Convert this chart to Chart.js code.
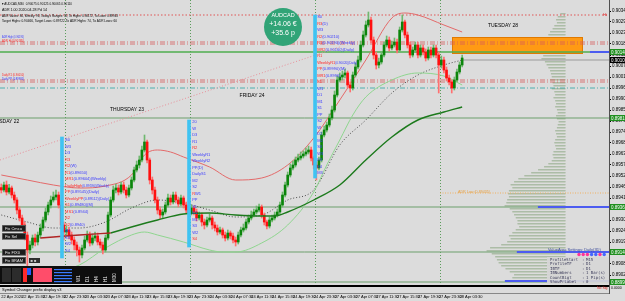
<!DOCTYPE html>
<html>
<head>
<meta charset="utf-8">
<title>AUDCAD M30</title>
<script src="https://cdn.jsdelivr.net/npm/chart.js@4.4.1/dist/chart.umd.min.js"></script>
<style>
  html, body { margin: 0; padding: 0; background: #dcdcdc; }
  #wrap { width: 625px; height: 301px; }
</style>
</head>
<body>
<div id="wrap"><canvas id="priceChart" width="625" height="301"></canvas></div>
<script>
// all prices in points (1 point = 0.00001)
const opens = [89462,89450,89475,89440,89460,89425,89400,89350,89310,89275,
  89225,89150,89175,89210,89190,89225,89260,89300,89340,89375,
  89400,89415,89425,89375,89275,89240,89250,89225,89200,89175,
  89150,89125,89160,89200,89225,89185,89210,89220,89190,89175,
  89150,89210,89325,89400,89450,89460,89440,89475,89450,89425,
  89460,89500,89550,89575,89600,89650,89690,89600,89500,89450,
  89400,89350,89325,89340,89375,89410,89390,89425,89400,89380,
  89410,89375,89350,89335,89360,89340,89310,89325,89290,89275,
  89300,89310,89275,89260,89240,89250,89225,89210,89235,89220,
  89200,89190,89225,89250,89260,89290,89310,89325,89340,89350,
  89365,89325,89290,89270,89300,89310,89325,89340,89375,89425,
  89475,89525,89560,89575,89600,89610,89620,89630,89640,89650,
  89610,89575,89560,89600,89725,89750,89775,89810,89850,89925,
  90000,90015,90025,90035,89975,89960,90025,90065,90100,90175,
  90225,90275,90300,90200,90125,90075,90090,90125,90175,90200,
  90160,90175,90190,90150,90250,90290,90225,90175,90125,90150,
  90175,90125,90160,90140,90110,90150,90125,90160,90125,90075,
  90100,90050,90010,89990,89960,90000,90040,90075];
const highs = [89480,89490,89495,89478,89470,89440,89412,89365,89325,89290,
  89240,89195,89225,89230,89240,89280,89315,89360,89390,89420,
  89440,89450,89440,89390,89290,89270,89265,89240,89215,89190,
  89165,89175,89220,89245,89240,89230,89240,89235,89205,89190,
  89225,89340,89415,89470,89480,89475,89490,89490,89465,89475,
  89515,89565,89595,89620,89670,89725,89700,89610,89515,89465,
  89415,89365,89355,89390,89430,89425,89440,89440,89415,89425,
  89420,89390,89365,89375,89370,89355,89340,89335,89305,89315,
  89330,89320,89290,89275,89265,89260,89240,89250,89245,89235,
  89215,89240,89265,89280,89305,89325,89345,89355,89370,89380,
  89375,89335,89300,89315,89325,89340,89355,89390,89440,89490,
  89540,89580,89595,89615,89630,89640,89645,89660,89670,89665,
  89620,89590,89615,89740,89770,89790,89830,89870,89945,90020,
  90035,90045,90055,90045,89990,90040,90085,90120,90195,90245,
  90295,90340,90315,90215,90140,90110,90140,90190,90220,90215,
  90195,90210,90205,90265,90325,90300,90240,90190,90165,90190,
  90190,90175,90175,90155,90165,90165,90175,90175,90140,90120,
  90115,90065,90025,90000,90015,90055,90090,90125];
const lows = [89435,89440,89425,89430,89410,89385,89330,89295,89255,89200,
  89060,89130,89160,89170,89175,89210,89245,89290,89325,89360,
  89390,89400,89360,89255,89200,89225,89205,89180,89150,89120,
  89090,89110,89150,89190,89170,89175,89195,89175,89160,89130,
  89140,89200,89315,89390,89435,89425,89430,89435,89410,89415,
  89450,89490,89540,89560,89590,89640,89585,89480,89430,89385,
  89330,89305,89310,89330,89365,89375,89380,89385,89365,89370,
  89360,89335,89320,89325,89325,89295,89300,89270,89255,89265,
  89290,89255,89245,89225,89230,89210,89195,89200,89205,89185,
  89170,89180,89215,89240,89250,89280,89300,89315,89330,89340,
  89310,89275,89255,89260,89290,89300,89315,89330,89365,89415,
  89465,89515,89550,89565,89590,89600,89610,89620,89630,89595,
  89555,89500,89550,89590,89715,89740,89765,89800,89840,89915,
  89990,90000,90010,89960,89940,89950,90015,90055,90090,90165,
  90215,90265,90185,90105,90055,90060,90080,90115,90165,90145,
  90150,90165,90135,90140,90240,90210,90160,90110,90115,90140,
  90110,90115,90125,90095,90100,90110,90115,90110,89935,90060,
  90035,89995,89975,89935,89950,89990,90030,90065];
const closes = [89450,89475,89440,89460,89425,89400,89350,89310,89275,89225,
  89150,89175,89210,89190,89225,89260,89300,89340,89375,89400,
  89415,89425,89375,89275,89240,89250,89225,89200,89175,89150,
  89125,89160,89200,89225,89185,89210,89220,89190,89175,89150,
  89210,89325,89400,89450,89460,89440,89475,89450,89425,89460,
  89500,89550,89575,89600,89650,89690,89600,89500,89450,89400,
  89350,89325,89340,89375,89410,89390,89425,89400,89380,89410,
  89375,89350,89335,89360,89340,89310,89325,89290,89275,89300,
  89310,89275,89260,89240,89250,89225,89210,89235,89220,89200,
  89190,89225,89250,89260,89290,89310,89325,89340,89350,89365,
  89325,89290,89270,89300,89310,89325,89340,89375,89425,89475,
  89525,89560,89575,89600,89610,89620,89630,89640,89650,89610,
  89575,89560,89600,89725,89750,89775,89810,89850,89925,90000,
  90015,90025,90035,89975,89960,90025,90065,90100,90175,90225,
  90275,90300,90200,90125,90075,90090,90125,90175,90200,90160,
  90175,90190,90150,90250,90290,90225,90175,90125,90150,90175,
  90125,90160,90140,90110,90150,90125,90160,90125,90075,90100,
  90050,90010,89990,89960,90000,90040,90075,90110];

// envelope / moving averages, sampled at bar indexes
const upperIdx = [0,10,20,30,40,50,55,60,65,70,80,90,100,110,120,130,140,150,155,160,170,177];
const upperVal = [89525,89500,89475,89460,89470,89525,89625,89650,89640,89615,89565,89500,89510,89575,89710,89900,90100,90310,90335,90325,90275,90240];
const lowerIdx = [0,10,20,30,40,50,55,60,70,80,85,90,100,110,120,125,130,135,140,150,160,170,177];
const lowerVal = [89060,89025,89040,89075,89160,89225,89240,89225,89190,89150,89140,89140,89185,89275,89440,89575,89700,89825,89915,90000,90035,90020,89975];
const midIdx = [0,10,20,30,40,50,60,70,80,90,100,110,120,130,140,150,160,170,177];
const midVal = [89325,89290,89260,89260,89290,89360,89400,89385,89350,89315,89325,89400,89450,89675,89800,89935,90025,90075,90100];
const maRedIdx = [15,20,30,42];
const maRedVal = [89210,89215,89225,89235];
const maGreenIdx = [42,50,60,70,80,90,100,105,110,120,130,140,150,160,170,177];
const maGreenVal = [89235,89265,89300,89330,89335,89325,89320,89320,89340,89400,89475,89600,89715,89800,89840,89865];

// session markers (cyan bars)
const sessionIdx = [23.3, 72.1, 120.5];
const sessionLow = [89110, 89165, 89510];
const sessionHigh = [89715, 89800, 90325];

// volume profile: price bins from 0.90330 down, 15 points each
const profileVolume = [6,9,11,10,13,15,
  18,20,22,21,24,23,22,
  25,
  26,28,24,22,20,18,
  17,16,18,15,14,16,13,12,14,12,11,12,
  10,9,11,10,8,9,10,12,11,10,12,13,12,11,14,15,14,16,20,
  25,32,40,48,55,60,
  64,62,66,67,66,68,69,
  71,
  65,62,60,58,56,
  56,54,58,62,
  66,64,68,75,
  88,92,
  86,82,80,78,
  75,70,65,60,62,62];
const profileTop = 90330, profileStep = 15;

const timeTickIdx = [0,8,16,24,32,40,48,56,64,72,80,88,96,104,112,120,128,136,144,152,160,168,176];
const timeLabels = ['22 Apr 2020','22 Apr 15:30','22 Apr 19:30','22 Apr 23:30','23 Apr 03:30','23 Apr 07:30',
  '23 Apr 11:30','23 Apr 15:30','23 Apr 19:30','23 Apr 23:30','24 Apr 03:30','24 Apr 07:30','24 Apr 11:30',
  '24 Apr 15:30','24 Apr 19:30','24 Apr 23:30','27 Apr 03:30','27 Apr 07:30','27 Apr 11:30','27 Apr 15:30',
  '27 Apr 19:30','27 Apr 23:30','28 Apr 03:30'];
const priceTicks = [90345,90290,90235,90180,90125,90070,90015,89960,89905,89850,89795,89740,89685,
  89630,89575,89520,89465,89410,89355,89300,89245,89190,89135,89080,89025];

const daySepIdx = [24.5, 72.5, 120.5, 168.5];
const dayNames = ['WEDNESDAY 22', 'THURSDAY 23', 'FRIDAY 24', 'TUESDAY 28'];
const dayIdx = [-0.5, 48.3, 96.3, 192.7];
const dayPrice = [89790, 89850, 89920, 90270];

const axisMarks = [[90140,'#1f8f1f'],[90100,'#000000'],[89810,'#1f8f1f'],[89365,'#1f8f1f'],[89140,'#1f8f1f'],[88990,'#1f8f1f']];

const col1Rows = [['','S0'],['','W3'],['','D3'],['R3',''],['R2','(W)'],['R1','(0.89650)'],
  ['MR1','(0.89604)(Weekly)'],['DailyHigh','(0.89590)(Weekly)'],['PP','(0.89545)(Daily)'],
  ['WeeklyPP','(0.89512)(Daily)'],['S1','(0.89480)(M)'],['MS1','(0.8944)'],
  ['S2',''],['S2','(0.8940)'],['','M1'],['','S3'],['','W2'],['','S4']];
const col2Rows = [['','20'],['','W'],['','D3'],['','R1'],['R2',''],['','WeeklyR1'],['','WeeklyR2'],['','PP(D)'],
  ['','DailyS1'],['','M2'],['','S2'],['R','W1'],['','PP'],['','S1'],['','D1'],['','M1'],['','S3'],['','W2'],['S4','']];
const col3Rows = [['','S0'],['R3','(D)'],['','W3'],['R2','(0.90210)'],['R1','(0.90190)(Weekly)'],['MR2','(0.90160)(Daily)'],
  ['R1',''],['WeeklyR1','(0.90020)(Daily)'],['PP','(0.89990)(M)'],['MR1','(0.8996)'],['S1',''],['','W1'],
  ['','D1'],['','M1'],['','S1'],['','PP'],['','S2'],['','W'],['','D2'],['','M2'],['','S3'],['','W3'],['','D3'],['','S4'],['','M3']];

const BG = '#dcdcdc';
const FONT = 'Liberation Sans';
const NARROW = 'Liberation Sans Narrow, Liberation Sans';
const X_MIN = -0.5, X_MAX = 233.4;
const Y_MIN = 88980, Y_MAX = 90400;
const P = v => v / 100000;
const isUp = i => closes[i] >= opens[i];

const hline = (price, from, to, color, width, dash, order) => ({
  type: 'line',
  data: [{ x: from, y: P(price) }, { x: to, y: P(price) }],
  borderColor: color, borderWidth: width, borderDash: dash || [],
  pointRadius: 0, order: order || 10
});
const curve = (idx, vals, color, width, dash, order) => ({
  type: 'line',
  data: idx.map((v, k) => ({ x: v, y: P(vals[k]) })),
  borderColor: color, borderWidth: width, borderDash: dash || [],
  pointRadius: 0, tension: 0.4, cubicInterpolationMode: 'monotone', order: order
});

function fitText(c, txt, x, y, maxW) {
  const w = c.measureText(txt).width;
  if (maxW && w > maxW) {
    c.save(); c.translate(x, y); c.scale(maxW / w, 1); c.fillText(txt, 0, 0); c.restore();
    return maxW;
  }
  c.fillText(txt, x, y);
  return w;
}

function drawColumn(c, x, y, idx, topPrice, rows, maxW) {
  const x0 = x.getPixelForValue(idx);
  const y0 = y.getPixelForValue(P(topPrice));
  c.font = '4px ' + NARROW;
  c.textBaseline = 'middle';
  rows.forEach((r, k) => {
    const yy = y0 + k * 6.5;
    let xx = x0;
    if (r[0]) { c.fillStyle = '#ff2828'; xx += fitText(c, r[0], xx, yy, maxW); }
    if (r[1]) { c.fillStyle = '#3a3aff'; fitText(c, r[1], xx, yy, maxW - (xx - x0)); }
  });
}

const overlay = {
  id: 'overlay',
  beforeDraw(chart) {
    const c = chart.ctx;
    c.save();
    c.fillStyle = BG;
    c.fillRect(0, 0, chart.width, chart.height);
    c.restore();
  },
  beforeDatasetsDraw(chart) {
    const { ctx: c, chartArea: a, scales: { x, y, xv } } = chart;
    c.save();
    c.beginPath(); c.rect(a.left, a.top, a.right - a.left, a.bottom - a.top); c.clip();
    // volume profile
    profileVolume.forEach((v, k) => {
      const yc = Math.round(y.getPixelForValue(P(profileTop - profileStep * k)));
      const x0 = xv.getPixelForValue(v), x1 = xv.getPixelForValue(0);
      c.fillStyle = '#c4cdbf';
      c.fillRect(x0, yc - 1, x1 - x0, 2);
      c.fillStyle = '#a3b59d';
      c.fillRect(x0, yc - 1, x1 - x0, 0.7);
    });
    // target zone
    const bx0 = x.getPixelForValue(173.1), bx1 = x.getPixelForValue(223.4);
    const by0 = y.getPixelForValue(P(90215)), by1 = y.getPixelForValue(P(90130));
    c.fillStyle = '#ff9a14';
    c.fillRect(bx0, by0, bx1 - bx0, by1 - by0);
    c.strokeStyle = '#e07a00'; c.lineWidth = 1;
    c.strokeRect(bx0 + 0.5, by0 + 0.5, bx1 - bx0 - 1, by1 - by0 - 1);
    // day separators
    c.strokeStyle = '#5c9c5c'; c.setLineDash([1, 2]);
    daySepIdx.forEach(i => {
      const px = Math.round(x.getPixelForValue(i)) + 0.5;
      c.beginPath(); c.moveTo(px, a.top); c.lineTo(px, a.bottom); c.stroke();
    });
    c.restore();
  },
  afterDatasetsDraw(chart) {
    const { ctx: c, chartArea: a, scales: { x, y } } = chart;
    c.save();
    c.beginPath(); c.rect(a.left, a.top, a.right - a.left, a.bottom - a.top); c.clip();

    // pivot label columns
    drawColumn(c, x, y, 24.5, 89700, col1Rows, 44);
    drawColumn(c, x, y, 73.3, 89790, col2Rows, 28);
    drawColumn(c, x, y, 121.3, 90315, col3Rows, 40);

    // day names
    c.font = '5px ' + FONT; c.fillStyle = '#000'; c.textAlign = 'center'; c.textBaseline = 'middle';
    dayNames.forEach((d, k) => c.fillText(d, x.getPixelForValue(dayIdx[k]), y.getPixelForValue(P(dayPrice[k]))));
    c.textAlign = 'left';

    // small level labels on the left and ADR low
    c.font = '4px ' + NARROW;
    [['ADR High (0.90195)', '#3535ff', 90215], ['ADR Hi (0.90185)', '#ff2424', 90195],
     ['Daily R1 (0.90010)', '#ff2424', 90025], ['Daily PP (0.89985)', '#3535ff', 90005]].forEach(t => {
      c.fillStyle = t[1];
      fitText(c, t[0], 2, y.getPixelForValue(P(t[2])), 22);
    });
    c.fillStyle = '#e8a040';
    fitText(c, 'ADR Low (0.89435)', x.getPixelForValue(175.4), y.getPixelForValue(P(89435)) - 1.5, 32);
    c.fillStyle = '#e02020';
    c.fillText('Hi', 603, y.getPixelForValue(P(90325)));

    // header text
    c.fillStyle = '#000'; c.font = '4px ' + FONT;
    fitText(c, '\u25BE AUDCAD,M30  0.90075 0.90125 0.90065 0.90110', 2, 4, 70);
    fitText(c, 'ADR 1.00 2020.04.28 Pd 14', 2, 9.5, 45);
    fitText(c, "ADR Values: 84, Weekly: 96, Today's Ranges: 32, To Highs: 0.90172, To Lows: 0.89943", 2, 15.5, 116);
    fitText(c, 'Target Highs: 0.90466, Target Lows: 0.89722 To ADR Highs: 74, To ADR Lows: 60', 2, 21, 115);

    // profit badge
    c.fillStyle = '#31a477';
    c.beginPath(); c.arc(283, 27, 19, 0, Math.PI * 2); c.fill();
    c.fillStyle = '#fff'; c.textAlign = 'center';
    c.font = '5.5px ' + FONT; c.fillText('AUDCAD', 283, 15.5);
    c.font = '7px ' + FONT; c.fillText('+14.06 \u20AC', 283, 24.5);
    c.fillText('+35.6 p', 283, 33);
    c.textAlign = 'left';

    // buttons
    c.font = '4px ' + FONT;
    [['Fix Cmcu', 225], ['Fix Sel', 233], ['Fix FIX0', 249], ['Fix BRAM', 257]].forEach(b => {
      c.fillStyle = '#1c1c1c'; c.fillRect(2, b[1], 24, 6.5);
      c.strokeStyle = '#7a7a7a'; c.lineWidth = 0.6; c.strokeRect(2.3, b[1] + 0.3, 23.4, 5.9);
      c.fillStyle = '#e8e8e8'; c.fillText(b[0], 5, b[1] + 3.4);
    });
    c.fillStyle = '#2e2e2e'; c.fillRect(29, 258, 11, 5);
    c.fillStyle = '#ccc'; c.fillText('\u25A0 \u25A0', 30.5, 260.6);

    // timeframe panel
    c.fillStyle = '#0e0e0e'; c.fillRect(0, 266, 122, 18);
    c.fillStyle = '#2c2c2c'; c.fillRect(2, 268, 9, 14); c.fillRect(12, 268, 9, 14);
    c.fillStyle = '#ff2a2a'; c.fillRect(23, 268, 4, 14);
    c.fillStyle = '#2a5cff'; c.fillRect(27, 268, 4, 7);
    c.fillStyle = '#ff4d6a'; c.fillRect(33, 268, 19, 14);
    c.fillStyle = '#3a7bff';
    [269, 272, 275, 278, 281].forEach(yy => c.fillRect(54, yy, 18, 1.2));
    c.fillStyle = '#f0f0f0'; c.font = '4.5px ' + FONT;
    ['W1', 'D1', 'H4', 'H1', 'M30'].forEach((t, k) => {
      c.save(); c.translate(79 + k * 9, 282); c.rotate(-Math.PI / 2); c.fillText(t, 0, 0); c.restore();
    });

    // profile settings block
    c.fillStyle = '#3a4a9a'; c.font = '4px ' + FONT;
    fitText(c, 'ValueArea Settings: Daily(3D)', 548, 250, 56);
    ['#ff3399', '#ff3399', '#ff3399', '#4466ff', '#4466ff', '#ff3399', '#4466ff'].forEach((col, k) => {
      c.fillStyle = col; c.beginPath(); c.arc(579 + k * 4.2, 254.5, 1.7, 0, Math.PI * 2); c.fill();
    });
    c.fillStyle = 'rgba(214,214,214,0.92)'; c.fillRect(547, 257, 62, 27);
    c.fillStyle = '#3c3c5a'; c.font = '4px DejaVu Sans Mono';
    [['ProfileStart', 'M15'], ['ProfileTF', 'D1'], ['IBTF', 'D1'], ['IBNumbers', '1 Bar(s)'],
     ['CountBigt', '1 Pip(s)'], ['ShowPrLabel', '0']].forEach((t, k) => {
      const yy = 259.5 + k * 4.5;
      fitText(c, t[0], 550, yy, 28); c.fillText(':', 582, yy); fitText(c, t[1], 586, yy, 20);
    });
    c.restore();
  },
  afterDraw(chart) {
    const { ctx: c, chartArea: a, scales: { y } } = chart;
    c.save();
    // indicator sub window
    c.fillStyle = BG; c.fillRect(0, a.bottom, a.right, 10);
    c.fillStyle = '#000'; c.fillRect(0, 285, a.right, 2);
    c.fillStyle = '#888'; c.fillRect(0, 293, a.right, 1);
    c.fillStyle = '#000'; c.font = '4px ' + FONT; c.textBaseline = 'middle';
    c.fillText('Symbol Changer prefix display v3', 2, 290);
    c.fillStyle = '#505050'; c.fillRect(a.right, 0, 1, 294);
    c.fillStyle = '#d02020'; c.font = '3.5px ' + FONT; c.fillText('No Sig', 597, 288.5);
    c.fillStyle = '#000'; c.fillText('0.0000', 611, 288.5);
    // highlighted price marks on the axis
    c.font = '4.5px ' + NARROW;
    axisMarks.forEach(m => {
      const yc = Math.round(y.getPixelForValue(P(m[0])));
      c.fillStyle = m[1]; c.fillRect(a.right + 1, yc - 3, 16, 6);
      c.fillStyle = '#fff'; c.fillText((m[0] / 100000).toFixed(5), a.right + 2, yc + 0.3);
    });
    c.restore();
  }
};

const ctxPrice = document.getElementById('priceChart');
new Chart(ctxPrice, {
  type: 'bar',
  data: {
    datasets: [
      // horizontal levels
      hline(90325, X_MIN, X_MAX, '#e05555', 1, [1.5, 2]),
      hline(90190, X_MIN, X_MAX, '#d65a5a', 0.8, [5, 2, 1, 2]),
      hline(90180, X_MIN, X_MAX, '#d65a5a', 0.8, [5, 2, 1, 2]),
      hline(90000, X_MIN, X_MAX, '#d65a5a', 0.8, [5, 2, 1, 2]),
      hline(89990, X_MIN, X_MAX, '#d65a5a', 0.8, [5, 2, 1, 2]),
      hline(89960, X_MIN, X_MAX, '#2aa5a5', 0.8, [5, 2, 1, 2]),
      hline(90140, X_MIN, X_MAX, '#4fae4f', 1.5),
      hline(89810, X_MIN, X_MAX, '#6c9f6c', 1),
      hline(89365, X_MIN, X_MAX, '#6c9f6c', 1),
      hline(89140, X_MIN, X_MAX, '#6c9f6c', 1),
      hline(88990, X_MIN, X_MAX, '#6c9f6c', 1),
      hline(90100, 177, X_MAX, '#9a9a9a', 1),
      hline(89435, 168.5, X_MAX, '#f0b060', 1, [1, 1.5]),
      hline(90140, 226.1, X_MAX, '#4c5cf0', 2, [], 1),
      hline(89365, 206.1, X_MAX, '#4c5cf0', 2, [], 1),
      hline(89140, 198.0, X_MAX, '#4c5cf0', 2, [], 1),
      hline(88995, 193.4, X_MAX, '#4c5cf0', 2, [], 1),
      // trend line and envelope
      { type: 'line', data: [{ x: X_MIN, y: P(89600) }, { x: 130, y: P(90165) }],
        borderColor: '#e8909a', borderWidth: 1, borderDash: [1, 2], pointRadius: 0, order: 9 },
      curve(upperIdx, upperVal, '#e46a6a', 1, [], 8),
      curve(lowerIdx, lowerVal, '#8fd68f', 1, [], 8),
      curve(midIdx, midVal, '#4a4a4a', 1, [1, 2], 8),
      // candles
      {
        data: closes.map((c, i) => ({ x: i, y: [P(lows[i]), P(highs[i])] })),
        backgroundColor: closes.map((c, i) => isUp(i) ? '#6fb86f' : '#ff7070'),
        barThickness: 1, grouped: false, order: 6
      },
      {
        data: closes.map((c, i) => ({ x: i, y: [P(opens[i]), P(c)] })),
        backgroundColor: closes.map((c, i) => isUp(i) ? '#0b850b' : '#ff1010'),
        barThickness: 2, grouped: false, order: 5
      },
      curve(maRedIdx, maRedVal, '#b02424', 1.4, [], 4),
      curve(maGreenIdx, maGreenVal, '#1c7a1c', 1.4, [], 4),
      // session markers
      {
        data: sessionIdx.map((v, k) => ({ x: v, y: [P(sessionLow[k]), P(sessionHigh[k])] })),
        backgroundColor: '#3fc3f2', barThickness: 3, grouped: false, order: 3
      }
    ]
  },
  options: {
    responsive: false,
    animation: false,
    devicePixelRatio: 1,
    events: [],
    layout: { padding: 0 },
    plugins: { legend: { display: false }, tooltip: { enabled: false } },
    scales: {
      x: {
        type: 'linear', min: X_MIN, max: X_MAX, offset: false,
        grid: { display: false, drawTicks: false },
        border: { display: false },
        afterBuildTicks: ax => { ax.ticks = timeTickIdx.map(v => ({ value: v })); },
        afterFit: ax => { ax.height = 17; ax.paddingLeft = 0; ax.paddingRight = 0; },
        ticks: {
          autoSkip: false, maxRotation: 0, minRotation: 0, align: 'start', padding: 10,
          color: '#000', font: { family: NARROW, size: 4 },
          callback: (v, i) => timeLabels[i]
        }
      },
      y: {
        type: 'linear', position: 'right', min: P(Y_MIN), max: P(Y_MAX),
        grid: { drawOnChartArea: false, drawTicks: true, tickLength: 2, color: '#000' },
        border: { display: true, color: '#404040' },
        afterBuildTicks: ax => { ax.ticks = priceTicks.map(v => ({ value: P(v) })); },
        afterFit: ax => { ax.width = 16; ax.paddingTop = 0; ax.paddingBottom = 0; },
        ticks: {
          padding: 1, color: '#000', font: { family: NARROW, size: 4.5 },
          callback: v => v.toFixed(5)
        }
      },
      xv: { axis: 'x', type: 'linear', display: false, min: 0, max: 609, reverse: true }
    }
  },
  plugins: [overlay]
});
</script>
</body>
</html>
